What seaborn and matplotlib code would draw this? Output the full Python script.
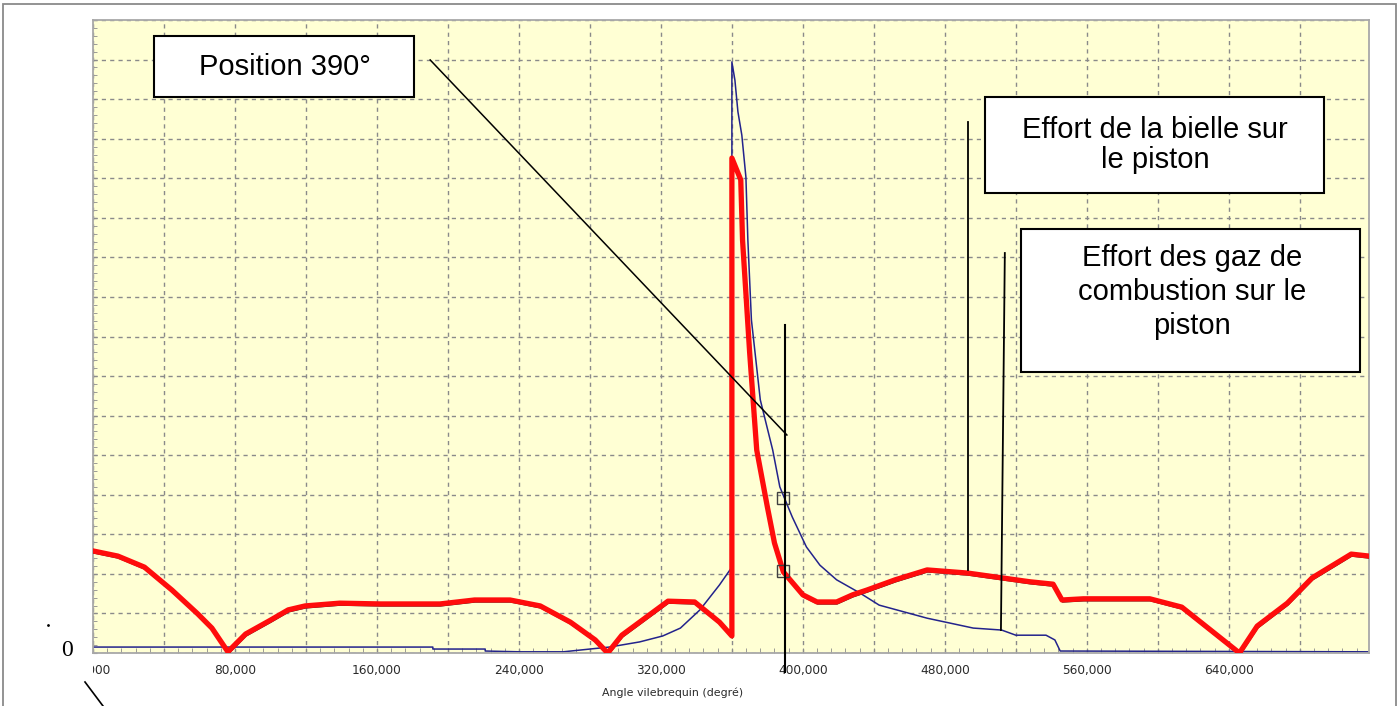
import pandas as pd
import seaborn as sns
import matplotlib.pyplot as plt
from matplotlib.patches import Rectangle
from matplotlib.lines import Line2D
from matplotlib.transforms import Bbox, TransformedBbox, offset_copy

# effort de la bielle sur le piston (red curve)
angle_bielle = [0, 14, 29, 44.5, 59, 67, 76, 86, 100, 110, 119.5, 139, 162, 195.5,
                215, 235, 252, 269, 283, 290, 298, 308, 324, 339, 353, 360,
                360, 365, 366, 370, 374, 380, 384, 389, 400, 408, 419, 428, 436,
                452, 470, 493, 512, 528, 541, 546, 558, 595.5, 613.5, 646, 656,
                673, 687, 709, 719]
effort_bielle = [2.58, 2.45, 2.17, 1.59, 0.99, 0.63, 0.03, 0.48, 0.83, 1.09, 1.19, 1.26,
                 1.24, 1.24, 1.34, 1.34, 1.19, 0.78, 0.33, 0.0, 0.45, 0.78, 1.31, 1.29,
                 0.78, 0.43, 12.51, 11.96, 10.44, 7.6, 5.13, 3.69, 2.78, 2.05, 1.47,
                 1.29, 1.29, 1.47, 1.59, 1.85, 2.1, 2.02, 1.9, 1.8, 1.74, 1.34, 1.37,
                 1.37, 1.16, 0.0, 0.68, 1.26, 1.9, 2.5, 2.45]

# effort des gaz de combustion sur le piston (blue curve)
angle_gaz = [0, 191.5, 191.5, 221, 221, 240.5, 265, 280, 291, 308, 321, 331, 342,
             353, 360, 360, 361.7, 363.4, 365.6, 367.9, 369, 371, 376, 383, 387,
             394, 402, 409.6, 419, 432, 443, 470, 496, 512, 520, 537, 542, 545, 719]
effort_gaz = [0.15, 0.15, 0.1, 0.1, 0.05, 0.03, 0.03, 0.1, 0.15, 0.28, 0.43, 0.63,
              1.09, 1.72, 2.17, 14.94, 14.48, 13.68, 13.09, 12.03, 10.44, 8.42, 6.4,
              5.13, 4.2, 3.44, 2.68, 2.22, 1.85, 1.52, 1.21, 0.88, 0.63, 0.58, 0.45,
              0.45, 0.33, 0.05, 0.03]

marker_angle = [389, 389]
marker_effort = [3.92, 2.07]

tick_angles = list(range(0, 720, 40))
tick_labels = ["0,000", "", "80,000", "", "160,000", "", "240,000", "", "320,000", "",
               "400,000", "", "480,000", "", "560,000", "", "640,000", ""]

# callout lines (data coords)
callout_pos = ([190, 391], [14.99, 5.51])
line_390 = ([390, 390], [8.29, -0.48])
callout_bielle = ([493, 493], [13.42, 2.1])
callout_gaz = ([513.8, 511.6], [10.11, 0.58])

W, H = 1400, 706


def fx(x):
    return x / W


def fy(y):
    return 1 - y / H


plt.rcParams['font.family'] = ['Liberation Sans', 'DejaVu Sans']

fig = plt.figure(figsize=(14, 7.06), dpi=100)
ax = fig.add_axes([fx(93), fy(653), fx(1369) - fx(93), fy(20) - fy(653)])
ax.set_facecolor('#FFFFD4')

df_b = pd.DataFrame({"angle": angle_bielle, "effort": effort_bielle})
df_g = pd.DataFrame({"angle": angle_gaz, "effort": effort_gaz})

shadow = offset_copy(ax.transData, fig=fig, x=0.5, y=-2, units='dots')
sns.lineplot(data=df_b, x="angle", y="effort", sort=False, estimator=None,
             color="#222222", lw=1.0, ax=ax, transform=shadow, zorder=3)
sns.lineplot(data=df_g, x="angle", y="effort", sort=False, estimator=None,
             color="#23238c", lw=1.1, ax=ax, zorder=2)
sns.lineplot(data=df_b, x="angle", y="effort", sort=False, estimator=None,
             color="#ff0c0c", lw=3.8, ax=ax, zorder=4)
ax.plot(marker_angle, marker_effort, ls='none', marker='s', ms=8.5, mfc='none',
        mec='#404040', mew=1.0, zorder=6)

for xs, ys, lw in [(callout_pos[0], callout_pos[1], 1.1), (line_390[0], line_390[1], 1.5),
                   (callout_bielle[0], callout_bielle[1], 1.3),
                   (callout_gaz[0], callout_gaz[1], 1.3)]:
    ax.plot(xs, ys, color='black', lw=lw, clip_on=False, zorder=7)

ax.set_xlim(0, 719)
ax.set_ylim(0, 16)
ax.set_xlabel("")
ax.set_ylabel("")
ax.set_xticks(tick_angles)
ax.set_xticklabels(tick_labels, fontsize=8.7, family='DejaVu Sans', color='#2a2a2a')
ax.set_xticks(list(range(0, 720, 8)), minor=True)
ax.set_yticks(list(range(0, 17)))
ax.set_yticks([i / 5 for i in range(0, 81)], minor=True)
ax.set_yticklabels([])
ax.tick_params(axis='x', which='both', direction='in', length=3.5, color='#8c8c8c',
               pad=8, top=False)
ax.tick_params(axis='y', which='both', direction='in', length=3, color='#8c8c8c',
               right=False)
ax.grid(True, which='major', ls=(0, (3, 3)), color='#8a8a8a', lw=1.0)
ax.set_axisbelow(True)
for sp in ax.spines.values():
    sp.set_color('#a8a8a8')
    sp.set_linewidth(1.3)

# first label is cut by the plot's left edge
clip = TransformedBbox(Bbox([[fx(93), 0], [1, 1]]), fig.transFigure)
first = ax.get_xticklabels()[0]
first.set_clip_on(True)
first.set_clip_box(clip)

fig.text(fx(673), fy(693), "Angle vilebrequin (degré)", ha='center', va='center',
         fontsize=7.9, family='DejaVu Sans', color='#2a2a2a')
fig.text(fx(67), fy(651), "0", ha='center', va='center', fontsize=17,
         family='Liberation Serif')
fig.add_artist(Line2D([fx(48)], [fy(625)], marker='.', ms=2, color='black'))
fig.add_artist(Line2D([fx(85), fx(103)], [fy(682), fy(706)], color='black', lw=1.2))

# outer frame
fig.add_artist(Rectangle((fx(3), -0.02), fx(1396) - fx(3), fy(4) + 0.02, fill=False,
                         ec='#8a8a8a', lw=1.3, transform=fig.transFigure))

boxes = [((154, 36, 414, 97), "Position 390°", 1.2),
         ((985, 97, 1324, 193), "Effort de la bielle sur\nle piston", 1.12),
         ((1021, 229, 1360, 372), "Effort des gaz de\ncombustion sur le\npiston", 1.28)]
text_pos = [(285, 67), (1155, 145), (1192, 292)]
for ((x0, y0, x1, y1), txt, ls), (tx, ty) in zip(boxes, text_pos):
    fig.add_artist(Rectangle((fx(x0), fy(y1)), fx(x1) - fx(x0), fy(y0) - fy(y1),
                             fc='white', ec='black', lw=1.5, transform=fig.transFigure,
                             zorder=5))
    fig.text(fx(tx), fy(ty), txt, ha='center', va='center', multialignment='center',
             fontsize=21, linespacing=ls, zorder=6)

fig.savefig("out.png", dpi=100)
